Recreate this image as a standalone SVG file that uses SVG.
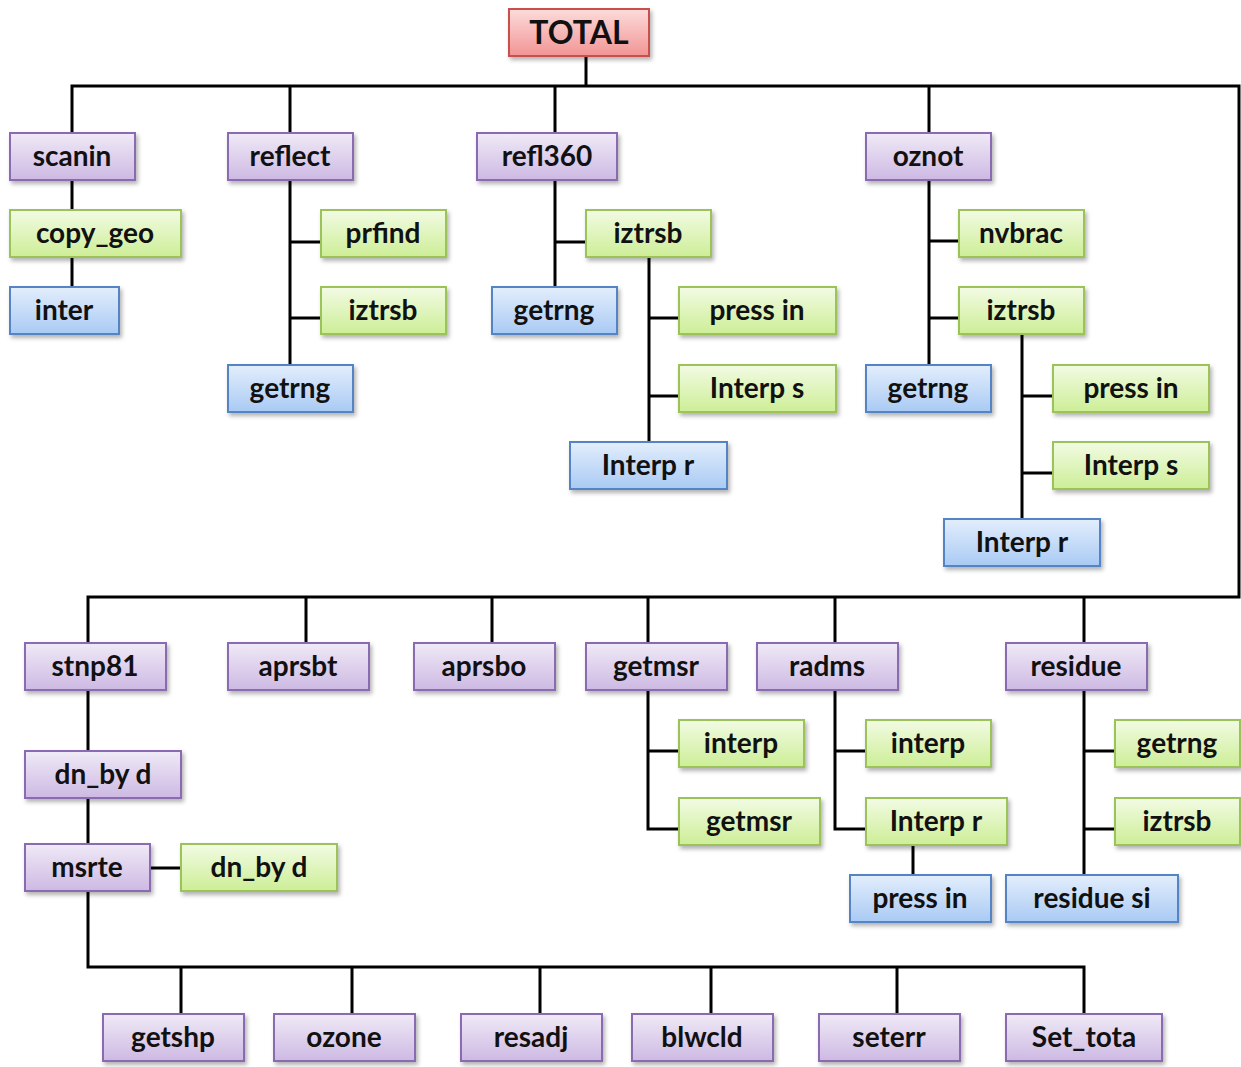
<svg xmlns="http://www.w3.org/2000/svg" width="1241" height="1067" viewBox="0 0 1241 1067">
  <style>
    .lbl { font-family: Lato, "Open Sans", "Liberation Sans", sans-serif; font-weight: 700; font-size: 28px; fill: #111; text-anchor: middle; }
    .big { font-size: 32px; }
    .box { stroke-width: 2; filter: url(#shadow); }
    .purple { fill: url(#gPurple); stroke: #8a6bb0; }
    .green { fill: url(#gGreen); stroke: #9cc35a; }
    .blue { fill: url(#gBlue); stroke: #5584c4; }
    .red { fill: url(#gRed); stroke: #c9504d; }
    .wire { fill: none; stroke: #000; stroke-width: 3; }
  </style>
  <defs>
    <linearGradient id="gPurple" x1="0" y1="0" x2="0" y2="1">
      <stop offset="0" stop-color="#f0eaf7"/>
      <stop offset="1" stop-color="#cdb9e3"/>
    </linearGradient>
    <linearGradient id="gGreen" x1="0" y1="0" x2="0" y2="1">
      <stop offset="0" stop-color="#f2fbe4"/>
      <stop offset="1" stop-color="#cdee96"/>
    </linearGradient>
    <linearGradient id="gBlue" x1="0" y1="0" x2="0" y2="1">
      <stop offset="0" stop-color="#e3eefc"/>
      <stop offset="1" stop-color="#a9caf4"/>
    </linearGradient>
    <linearGradient id="gRed" x1="0" y1="0" x2="0" y2="1">
      <stop offset="0" stop-color="#fcdcdb"/>
      <stop offset="1" stop-color="#f29494"/>
    </linearGradient>
    <filter id="shadow" x="-10%" y="-20%" width="130%" height="160%">
      <feDropShadow dx="2" dy="3" stdDeviation="2" flood-color="#000" flood-opacity="0.3"/>
    </filter>
  </defs>
  <rect width="1241" height="1067" fill="#fff"/>

  <!-- tree connectors -->
  <g id="connectors" class="wire">
    <path d="M586,56 V86"/>
    <path d="M72,133 V86 H1239 V597 H88 V643"/>
    <path d="M290,86 V133 M555,86 V133 M929,86 V133"/>
    <path d="M306,597 V643 M492,597 V643 M648,597 V643 M835,597 V643 M1084,597 V643"/>
    <path d="M72,180 V210 M72,257 V287"/>
    <path d="M290,180 V365 M290,242 H321 M290,318 H321"/>
    <path d="M555,180 V287 M555,242 H586"/>
    <path d="M649,257 V442 M649,318 H679 M649,396 H679"/>
    <path d="M929,180 V365 M929,241 H959 M929,318 H959"/>
    <path d="M1022,334 V519 M1022,396 H1053 M1022,473 H1053"/>
    <path d="M88,690 V751 M88,798 V844 M150,868 H181"/>
    <path d="M88,891 V967 H1084 V1014"/>
    <path d="M181,967 V1014 M352,967 V1014 M540,967 V1014 M711,967 V1014 M897,967 V1014"/>
    <path d="M648,690 V829 H679 M648,751 H679"/>
    <path d="M835,690 V829 H866 M835,751 H866 M913,845 V875"/>
    <path d="M1084,690 V875 M1084,751 H1115 M1084,829 H1115"/>
  </g>

  <!-- root -->
  <g id="n-total"><rect class="box red" x="509" y="9" width="140" height="47"/><text class="lbl big" x="579" y="44">TOTAL</text></g>

  <!-- upper branch -->
  <g id="n-scanin"><rect class="box purple" x="10" y="133" width="125" height="47"/><text class="lbl" x="72" y="166">scanin</text></g>
  <g id="n-copy_geo"><rect class="box green" x="10" y="210" width="171" height="47"/><text class="lbl" x="95" y="243">copy_geo</text></g>
  <g id="n-inter"><rect class="box blue" x="10" y="287" width="109" height="47"/><text class="lbl" x="64" y="320">inter</text></g>

  <g id="n-reflect"><rect class="box purple" x="228" y="133" width="125" height="47"/><text class="lbl" x="290" y="166">reflect</text></g>
  <g id="n-prfind"><rect class="box green" x="321" y="210" width="125" height="47"/><text class="lbl" x="383" y="243">prfind</text></g>
  <g id="n-iztrsb-1"><rect class="box green" x="321" y="287" width="125" height="47"/><text class="lbl" x="383" y="320">iztrsb</text></g>
  <g id="n-getrng-1"><rect class="box blue" x="228" y="365" width="125" height="47"/><text class="lbl" x="290" y="398">getrng</text></g>

  <g id="n-refl360"><rect class="box purple" x="477" y="133" width="140" height="47"/><text class="lbl" x="547" y="166">refl360</text></g>
  <g id="n-iztrsb-2"><rect class="box green" x="586" y="210" width="125" height="47"/><text class="lbl" x="648" y="243">iztrsb</text></g>
  <g id="n-getrng-2"><rect class="box blue" x="492" y="287" width="125" height="47"/><text class="lbl" x="554" y="320">getrng</text></g>
  <g id="n-pressin-1"><rect class="box green" x="679" y="287" width="157" height="47"/><text class="lbl" x="757" y="320">press in</text></g>
  <g id="n-interps-1"><rect class="box green" x="679" y="365" width="157" height="47"/><text class="lbl" x="757" y="398">Interp s</text></g>
  <g id="n-interpr-1"><rect class="box blue" x="570" y="442" width="157" height="47"/><text class="lbl" x="648" y="475">Interp r</text></g>

  <g id="n-oznot"><rect class="box purple" x="866" y="133" width="125" height="47"/><text class="lbl" x="928" y="166">oznot</text></g>
  <g id="n-nvbrac"><rect class="box green" x="959" y="210" width="125" height="47"/><text class="lbl" x="1021" y="243">nvbrac</text></g>
  <g id="n-iztrsb-3"><rect class="box green" x="959" y="287" width="125" height="47"/><text class="lbl" x="1021" y="320">iztrsb</text></g>
  <g id="n-getrng-3"><rect class="box blue" x="866" y="365" width="125" height="47"/><text class="lbl" x="928" y="398">getrng</text></g>
  <g id="n-pressin-2"><rect class="box green" x="1053" y="365" width="156" height="47"/><text class="lbl" x="1131" y="398">press in</text></g>
  <g id="n-interps-2"><rect class="box green" x="1053" y="442" width="156" height="47"/><text class="lbl" x="1131" y="475">Interp s</text></g>
  <g id="n-interpr-2"><rect class="box blue" x="944" y="519" width="156" height="47"/><text class="lbl" x="1022" y="552">Interp r</text></g>

  <!-- lower branch -->
  <g id="n-stnp81"><rect class="box purple" x="25" y="643" width="141" height="47"/><text class="lbl" x="95" y="676">stnp81</text></g>
  <g id="n-aprsbt"><rect class="box purple" x="228" y="643" width="141" height="47"/><text class="lbl" x="298" y="676">aprsbt</text></g>
  <g id="n-aprsbo"><rect class="box purple" x="414" y="643" width="141" height="47"/><text class="lbl" x="484" y="676">aprsbo</text></g>
  <g id="n-getmsr"><rect class="box purple" x="586" y="643" width="141" height="47"/><text class="lbl" x="656" y="676">getmsr</text></g>
  <g id="n-radms"><rect class="box purple" x="757" y="643" width="141" height="47"/><text class="lbl" x="827" y="676">radms</text></g>
  <g id="n-residue"><rect class="box purple" x="1006" y="643" width="141" height="47"/><text class="lbl" x="1076" y="676">residue</text></g>

  <g id="n-dnbyd-1"><rect class="box purple" x="25" y="751" width="156" height="47"/><text class="lbl" x="103" y="784">dn_by d</text></g>
  <g id="n-msrte"><rect class="box purple" x="25" y="844" width="125" height="47"/><text class="lbl" x="87" y="877">msrte</text></g>
  <g id="n-dnbyd-2"><rect class="box green" x="181" y="844" width="156" height="47"/><text class="lbl" x="259" y="877">dn_by d</text></g>

  <g id="n-interp-1"><rect class="box green" x="679" y="720" width="125" height="47"/><text class="lbl" x="741" y="753">interp</text></g>
  <g id="n-getmsr-2"><rect class="box green" x="679" y="798" width="141" height="47"/><text class="lbl" x="749" y="831">getmsr</text></g>

  <g id="n-interp-2"><rect class="box green" x="866" y="720" width="125" height="47"/><text class="lbl" x="928" y="753">interp</text></g>
  <g id="n-interpr-3"><rect class="box green" x="866" y="798" width="141" height="47"/><text class="lbl" x="936" y="831">Interp r</text></g>
  <g id="n-pressin-3"><rect class="box blue" x="850" y="875" width="141" height="47"/><text class="lbl" x="920" y="908">press in</text></g>

  <g id="n-getrng-4"><rect class="box green" x="1115" y="720" width="125" height="47"/><text class="lbl" x="1177" y="753">getrng</text></g>
  <g id="n-iztrsb-4"><rect class="box green" x="1115" y="798" width="125" height="47"/><text class="lbl" x="1177" y="831">iztrsb</text></g>
  <g id="n-residuesi"><rect class="box blue" x="1006" y="875" width="172" height="47"/><text class="lbl" x="1092" y="908">residue si</text></g>

  <!-- msrte callees -->
  <g id="n-getshp"><rect class="box purple" x="103" y="1014" width="141" height="47"/><text class="lbl" x="173" y="1047">getshp</text></g>
  <g id="n-ozone"><rect class="box purple" x="274" y="1014" width="141" height="47"/><text class="lbl" x="344" y="1047">ozone</text></g>
  <g id="n-resadj"><rect class="box purple" x="461" y="1014" width="141" height="47"/><text class="lbl" x="531" y="1047">resadj</text></g>
  <g id="n-blwcld"><rect class="box purple" x="632" y="1014" width="141" height="47"/><text class="lbl" x="702" y="1047">blwcld</text></g>
  <g id="n-seterr"><rect class="box purple" x="819" y="1014" width="141" height="47"/><text class="lbl" x="889" y="1047">seterr</text></g>
  <g id="n-settota"><rect class="box purple" x="1006" y="1014" width="156" height="47"/><text class="lbl" x="1084" y="1047">Set_tota</text></g>
</svg>
